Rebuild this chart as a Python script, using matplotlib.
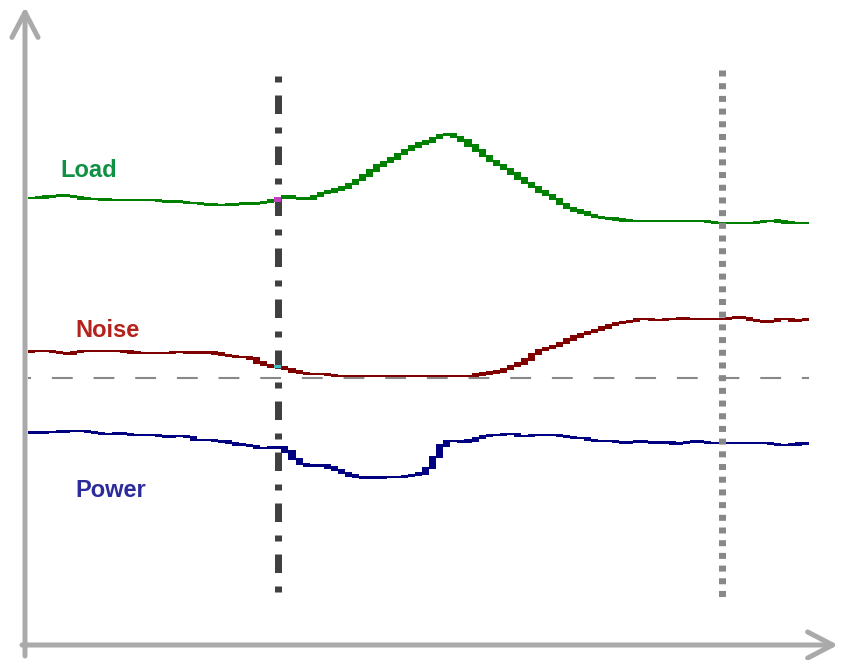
import matplotlib
matplotlib.use('Agg')
import matplotlib.pyplot as plt
import numpy as np

plt.rcParams['lines.scale_dashes'] = False

# signal levels per sample (baseline = 0)
load = [180.3, 180.3, 181, 182, 182.3, 182.3, 181.5, 180, 179.3, 179, 178.5,
        178.3, 178.3, 178.3, 178.3, 178.3, 178.3, 178.3,
        177.3, 176.5, 176.3, 176.3, 175.5, 174.8, 174.7, 173.5, 173.3, 173,
        173.3, 173.3, 174.5, 174.7, 174.7, 175.8, 176.2,
        178.7, 181.5, 181.3, 179.2, 179, 180.3, 183.5, 186, 187.3, 189.3,
        192, 196, 200, 204.7, 210, 215, 217.3, 221.7, 226, 230,
        233.3, 235.3, 238, 241.7, 244, 242.7, 239.7, 235, 230.3, 224.7,
        219.3, 215, 211, 207.3, 201.7, 197, 193.3, 188.3, 185, 181.3,
        176.3, 171.3, 169, 166, 164.7, 161.3, 161.3, 159.3, 159.3, 158,
        157.3, 157.3, 157.3, 157.3, 157.3, 157.3, 157.3, 157.3, 157.3, 157.3, 157.3, 157.3,
        155.3, 155.3, 155.3, 155.3, 155.3, 155.3, 155.3,
        156.7, 157.3, 157.3, 156, 155.3, 155.3, 155.3]

noise = [26.5, 27, 27.3, 27.3, 25.3, 24.5, 24.3,
         27.3, 27.3, 27.3, 27.3, 27.3, 27.3, 27.3,
         26, 25.3, 25.3, 25.3, 25.3, 25.3, 25.3,
         26.7, 25.7, 25.7, 25.7, 25.7, 25.7,
         23, 23, 21, 21, 21, 17.7, 13.5, 12, 11.3, 10.3, 7.3, 6, 4.3, 4.3, 4.3, 3.3,
         2.3, 2.3, 2.3, 2.3, 2.3, 2.3, 2.3, 2.3, 2.3, 2.3, 2.3,
         2.3, 2.3, 2.3, 2.3, 2.3, 2.3, 2.3, 2.3, 2.3, 2.3,
         4.5, 4.7, 6, 7.3, 11.3, 13.3, 15.7, 21.3, 26.3, 29.3,
         31, 33.3, 37.3, 39.7, 43, 45.3, 46.3, 49.3, 52, 54.3,
         55.3, 56.3, 58, 60.3, 58.3, 58.3, 58.3, 59.3, 59.3, 60.3, 58.3,
         59.3, 59.3, 59.3, 59.3, 59.3,
         60.3, 61.7, 58.3, 58.3, 56.3, 56.3, 57.3, 60.3, 57.3, 56.3, 59.3]

power = [-54.3, -54.3, -54.3, -53.7, -53.7, -53, -53, -53, -53,
         -54.7, -54.7, -56.7, -55, -55, -56.7, -56.7, -56.7, -56.7, -56.7,
         -58.7, -58.7, -57.7, -57.7, -60.7, -62.7, -61.3, -63, -63, -64.3,
         -65.7, -67, -67, -69.5, -70.5, -70, -68.7, -68.7, -78, -84,
         -87.5, -88, -87, -88, -90.7, -93.7, -96, -98.7, -98.7, -100,
         -100, -98.7, -98.7, -98.7, -98.7,
         -97.3, -96.3, -94.7, -85.5, -72, -63.3, -62.5, -63.7, -63.7, -61, -59.3,
         -57, -57, -57, -55.3, -57, -58.7, -57, -57, -57, -57,
         -57.3, -58.7, -59.7, -59.7, -60.7, -62.7, -62.7, -62.7, -62.7,
         -64.7, -64.7, -62.7, -62.7, -64.7, -64.7, -62.7, -66, -64.7, -64.7, -63.3, -62.7,
         -64.7, -64.7, -64.7, -64.7, -64.7, -64.7, -64.7, -64.7, -64.7, -64.7,
         -66.7, -66.7, -66.7, -66, -64.7]

labels = ['Load', 'Noise', 'Power']
line_colors = ['#008000', '#800000', '#000080']
label_colors = ['#0f9143', '#b3221b', '#2b2b9c']
event_a = 35.5    # dash-dot marker
event_b = 98.65   # dotted marker
cross_idx = 35


def blocks(vals, thick=2.4):
    v = np.asarray(vals, float)
    prev = np.r_[v[0], v[:-1]]
    nxt = np.r_[v[1:], v[-1]]
    left = (prev + v) / 2
    right = (v + nxt) / 2
    lo = np.minimum(left, right) - thick / 2
    hi = np.maximum(left, right) + thick / 2
    return lo, hi - lo


fig = plt.figure(figsize=(8.45, 6.6), dpi=100)
ax = fig.add_axes([0, 0, 1, 1])
ax.set_xlim(-28 / 7.04, (845 - 28) / 7.04)
ax.set_ylim(-282, 378)
ax.axis('off')

t = np.arange(len(load))
series = [load, noise, power]
lows = []
for vals, col in zip(series, line_colors):
    lo, h = blocks(vals)
    lows.append((lo, h))
    ax.bar(t, h, bottom=lo, width=1, align='edge', color=col,
           linewidth=0, zorder=2)

# baseline
ax.plot([0, len(load)], [0, 0], color='#888888', lw=1.5,
        linestyle=(12.8, (15, 15)), zorder=1)

# event markers
ax.plot([event_a, event_a], [302, -215], color='#404040', lw=5.04,
        linestyle=(0, (4.32, 9.36, 13.32, 9.72)), dash_capstyle='butt', zorder=4)
ax.plot([event_b, event_b], [308, -220], color='#888888', lw=5.04,
        linestyle=(0, (4.32, 4.82)), dash_capstyle='butt', zorder=4)

# crossing highlights
for (lo, h), col in zip(lows[:2], ['#c040c0', '#40c0c0']):
    ax.bar(cross_idx, h[cross_idx], bottom=lo[cross_idx], width=1, align='edge',
           color=col, linewidth=0, zorder=5)

# labels
label_pos = [(4.6, 201), (6.8, 41.3), (6.75, -119)]
for name, (x, y), col in zip(labels, label_pos, label_colors):
    ax.text(x, y, name, color=col, fontsize=17, fontweight='bold',
            family='Liberation Sans', va='baseline', ha='left')

# axis arrows
arrow = dict(arrowstyle='->,head_length=0.9,head_width=0.47', lw=3.6,
             color='#aaaaaa', shrinkA=0, shrinkB=0, mutation_scale=20,
             capstyle='round', joinstyle='round')
ax.annotate('', xy=(25, 653), xytext=(25, 4), xycoords='figure pixels',
            arrowprops=arrow)
ax.annotate('', xy=(838, 15), xytext=(22, 15), xycoords='figure pixels',
            arrowprops=arrow)

fig.savefig('out.png', dpi=100)
